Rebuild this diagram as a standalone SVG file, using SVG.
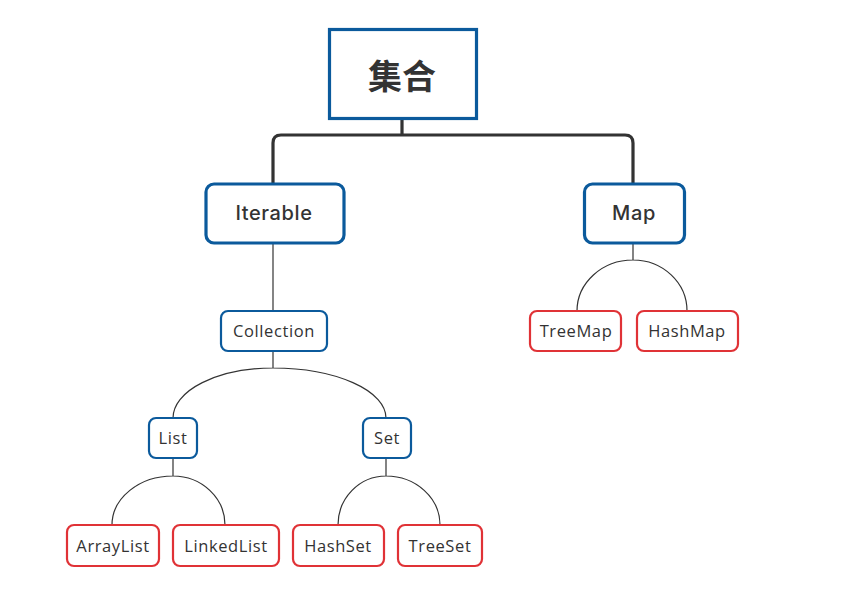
<svg xmlns="http://www.w3.org/2000/svg" width="847" height="613" viewBox="0 0 847 613">
<style>
.bg{fill:#ffffff}
.blue{fill:#ffffff;stroke:#0b5a9c}
.red{fill:#ffffff;stroke:#e03236;stroke-width:2.2}
.t{font-family:"Open Sans","Noto Sans",sans-serif;fill:#333333;text-anchor:middle;dominant-baseline:central;font-size:16.5px;letter-spacing:0.6px}
.big{font-family:Inter,"Open Sans",sans-serif;font-size:20px;font-weight:500;letter-spacing:0.6px}
.thin{fill:none;stroke:#333333;stroke-width:1.2}
</style>
<rect class="bg" x="0" y="0" width="847" height="613"/>
<g id="connectors">
<path d="M402 119 V135 M273 184 V143 Q273 135 281 135 H625 Q633 135 633 143 V184" fill="none" stroke="#333333" stroke-width="3.2"/>
<path class="thin" d="M273 243 V311"/>
<path class="thin" d="M273 351 V368 A100 50 0 0 0 173 418 M273 368 A113 50 0 0 1 386 418"/>
<path class="thin" d="M173 458 V476 A61 49 0 0 0 112 525 M173 476 A52 49 0 0 1 225 525"/>
<path class="thin" d="M386 458 V476 A48 49 0 0 0 338 525 M386 476 A54 49 0 0 1 440 525"/>
<path class="thin" d="M633 243 V260 A56 51 0 0 0 577 311 M633 260 A54 51 0 0 1 687 311"/>
</g>
<g id="root">
<rect class="blue" x="329.5" y="29.5" width="147" height="89" stroke-width="3.2"/>
<text class="t" x="402" y="74" style="font-family:'Noto Sans CJK SC',sans-serif;font-size:34px;font-weight:bold;letter-spacing:0">集合</text>
</g>
<g id="iterable">
<rect class="blue" x="206" y="184" width="138" height="59" rx="8" stroke-width="3.2"/>
<text class="t big" x="274" y="213">Iterable</text>
</g>
<g id="map">
<rect class="blue" x="584.5" y="184" width="100" height="59" rx="8" stroke-width="3.2"/>
<text class="t big" x="634" y="213">Map</text>
</g>
<g id="collection">
<rect class="blue" x="221" y="311" width="106" height="40" rx="7" stroke-width="2.2"/>
<text class="t" x="274" y="330.5">Collection</text>
</g>
<g id="list">
<rect class="blue" x="149" y="418" width="48" height="40" rx="7" stroke-width="2.2"/>
<text class="t" x="173" y="437.5">List</text>
</g>
<g id="set">
<rect class="blue" x="363" y="418" width="48" height="40" rx="7" stroke-width="2.2"/>
<text class="t" x="387" y="437.5">Set</text>
</g>
<g id="arraylist">
<rect class="red" x="67" y="525" width="92" height="41" rx="7"/>
<text class="t" x="113" y="545.5">ArrayList</text>
</g>
<g id="linkedlist">
<rect class="red" x="173" y="525" width="106" height="41" rx="7"/>
<text class="t" x="226" y="545.5">LinkedList</text>
</g>
<g id="hashset">
<rect class="red" x="293" y="525" width="91" height="41" rx="7"/>
<text class="t" x="338" y="545.5">HashSet</text>
</g>
<g id="treeset">
<rect class="red" x="398" y="525" width="84" height="41" rx="7"/>
<text class="t" x="440" y="545.5">TreeSet</text>
</g>
<g id="treemap">
<rect class="red" x="530" y="311" width="91" height="40" rx="7"/>
<text class="t" x="576" y="330.5">TreeMap</text>
</g>
<g id="hashmap">
<rect class="red" x="637" y="311" width="101" height="40" rx="7"/>
<text class="t" x="687" y="330.5">HashMap</text>
</g>
</svg>
